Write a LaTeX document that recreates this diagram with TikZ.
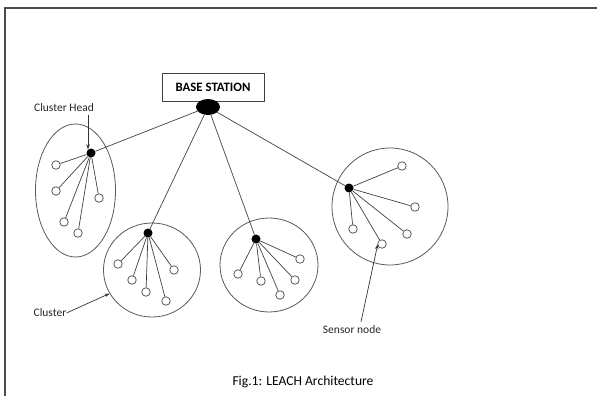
\documentclass[tikz,border=0pt]{standalone}
\usepackage{fontspec}
\setmainfont{Carlito}
\usetikzlibrary{shapes.geometric,arrows.meta}
\begin{document}
\begin{tikzpicture}[x=1pt,y=-1pt,
  frame/.style={draw=black!70,line width=1.3pt},
  bsbox/.style={draw=black!75,line width=0.9pt,minimum width=102pt,minimum height=28pt,inner sep=0pt,font=\fontsize{12.8}{14}\selectfont\bfseries},
  bsdot/.style={ellipse,fill=black,minimum width=24pt,minimum height=16pt,inner sep=0pt},
  clus/.style={ellipse,draw=black!65,line width=0.8pt,inner sep=0pt},
  chead/.style={circle,fill=black,minimum size=9pt,inner sep=0pt},
  sens/.style={circle,draw=black!65,fill=white,line width=0.8pt,minimum size=8.5pt,inner sep=0pt},
  link/.style={draw=black!75,line width=0.7pt},
  lbl/.style={font=\fontsize{11.5}{13}\selectfont,text=black!85,inner sep=0pt},
  ptr/.style={draw=black!80,line width=0.7pt,-{Stealth[length=5pt,width=3.5pt]}}
]
\useasboundingbox (0,0) rectangle (597,396);
\draw[frame] (5,396) -- (5,8) -- (597,8);

% clusters
\node[clus,minimum width=80pt,minimum height=133pt] (cl1) at (75.5,190.5) {};
\node[clus,minimum width=97pt,minimum height=94pt] (cl2) at (152,270) {};
\node[clus,minimum width=98pt,minimum height=94pt] (cl3) at (269,265) {};
\node[clus,minimum width=116pt,minimum height=117pt] (cl4) at (390,206.5) {};

% base station
\node[bsbox] (bs) at (213,87) {BASE STATION};
\node[bsdot] (bsd) at (208,107) {};

% cluster heads
\node[chead] (ch1) at (91,153) {};
\node[chead] (ch2) at (148,233) {};
\node[chead] (ch3) at (256,239) {};
\node[chead] (ch4) at (349,188) {};

% sensors cluster 1
\node[sens] (s11) at (56,165) {};
\node[sens] (s12) at (56,191) {};
\node[sens] (s13) at (99,198) {};
\node[sens] (s14) at (64,222) {};
\node[sens] (s15) at (78,233) {};
% sensors cluster 2
\node[sens] (s21) at (118,264) {};
\node[sens] (s22) at (132,280) {};
\node[sens] (s23) at (146,292) {};
\node[sens] (s24) at (166,301) {};
\node[sens] (s25) at (174,270) {};
% sensors cluster 3
\node[sens] (s31) at (238,274) {};
\node[sens] (s32) at (261,281) {};
\node[sens] (s33) at (280,295) {};
\node[sens] (s34) at (295,280) {};
\node[sens] (s35) at (300,259) {};
% sensors cluster 4
\node[sens] (s41) at (402,166) {};
\node[sens] (s42) at (415,207) {};
\node[sens] (s43) at (407,234) {};
\node[sens] (s44) at (382,244) {};
\node[sens] (s45) at (353,229) {};

% links base station - heads
\foreach \c in {ch1,ch2,ch3,ch4} \draw[link] (bsd) -- (\c);
% links heads - sensors
\foreach \s in {s11,s12,s13,s14,s15} \draw[link] (ch1) -- (\s);
\foreach \s in {s21,s22,s23,s24,s25} \draw[link] (ch2) -- (\s);
\foreach \s in {s31,s32,s33,s34,s35} \draw[link] (ch3) -- (\s);
\foreach \s in {s41,s42,s43,s44,s45} \draw[link] (ch4) -- (\s);

% labels
\node[lbl] (lch) at (64,108) {Cluster Head};
\node[lbl] (lcl) at (50,313) {Cluster};
\node[lbl] (lsn) at (352,330) {Sensor node};
\node[font=\fontsize{13.6}{15}\selectfont,inner sep=0pt] (cap) at (303,382) {Fig.1: LEACH Architecture};

\coordinate (chstart) at ([yshift=-2.5pt]lch.south -| 88,0);
\draw[ptr] (chstart) -- ([yshift=-1pt]ch1.north -| 88,0);
\draw[ptr] (lcl.east) -- (cl2.209);
\draw[ptr] ([xshift=9pt,yshift=4pt]lsn.north) -- ([shift={(-1pt,3pt)}]s44.south west);
\end{tikzpicture}
\end{document}
